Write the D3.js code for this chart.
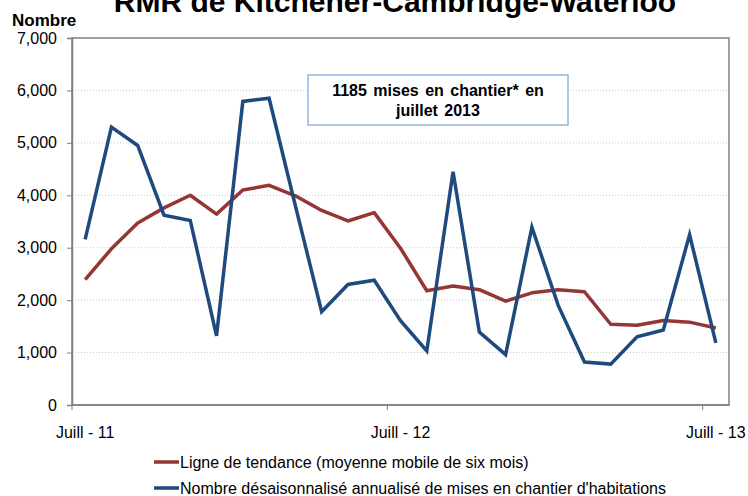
<!DOCTYPE html>
<html lang="fr">
<head>
<meta charset="UTF-8" />
<title>RMR de Kitchener-Cambridge-Waterloo</title>
<script src="https://d3js.org/d3.v7.min.js"></script>
<style>
    body { margin: 0; background: #fff; }
    svg { display: block; font-family: "Liberation Sans", Arial, sans-serif; }
</style>
</head>
<body>
<svg id="chart" width="748" height="496"></svg>
<script>
// months Juill-11 .. Juill-13
const months = d3.range(25);
const tickLabels = ["Juill - 11", "Juill - 12", "Juill - 13"];
const tickIndex = [0, 12, 24];

const trend = [2390, 2980, 3470, 3760, 4000, 3640, 4100, 4190, 3990, 3710, 3510, 3670,
               2990, 2180, 2270, 2200, 1980, 2140, 2200, 2160, 1540, 1520, 1610, 1580, 1470];
const starts = [3160, 5300, 4950, 3620, 3520, 1320, 5790, 5850, 3800, 1780, 2300, 2380,
                1610, 1030, 4450, 1390, 960, 3390, 1900, 820, 780, 1300, 1430, 3250, 1185];

const yTicks = [0, 1000, 2000, 3000, 4000, 5000, 6000, 7000];

const svg = d3.select("#chart");
const plotL = 72, plotR = 729, plotT = 38, plotB = 405;

const x = d3.scaleBand().domain(months).range([plotL, plotR]);
const y = d3.scaleLinear().domain([0, 7000]).range([plotB, plotT]);
const cx = i => x(i) + x.bandwidth() / 2;

// title (partly off the top, as in the source image)
svg.append("text")
    .attr("x", 395).attr("y", 12)
    .attr("text-anchor", "middle")
    .attr("font-size", 30).attr("font-weight", "bold")
    .text("RMR de Kitchener-Cambridge-Waterloo");

svg.append("text")
    .attr("x", 12).attr("y", 26)
    .attr("font-size", 17).attr("font-weight", "bold")
    .text("Nombre");

// gridlines
svg.append("g")
    .selectAll("line")
    .data(yTicks.filter(d => d > 0 && d < 7000))
    .join("line")
    .attr("x1", plotL).attr("x2", plotR)
    .attr("y1", d => y(d)).attr("y2", d => y(d))
    .attr("stroke", "#c8c8c8")
    .attr("stroke-dasharray", "1,2");

// plot frame
svg.append("rect")
    .attr("x", plotL).attr("y", plotT)
    .attr("width", plotR - plotL).attr("height", plotB - plotT)
    .attr("fill", "none")
    .attr("stroke", "#808080")
    .attr("stroke-width", 1.5);

// y axis
const yAxis = svg.append("g")
    .attr("transform", `translate(${plotL},0)`)
    .call(d3.axisLeft(y).tickValues(yTicks).tickSize(5).tickPadding(10)
        .tickFormat(d3.format(",")));
yAxis.select(".domain").attr("stroke", "#808080").attr("stroke-width", 1.5);
yAxis.selectAll(".tick line").attr("stroke", "#808080");
yAxis.selectAll("text").attr("font-size", 16).attr("fill", "#000")
    .attr("font-family", "'Liberation Sans', Arial, sans-serif");

// x axis: ticks on band edges, labels centred in bands
const xg = svg.append("g").attr("transform", `translate(0,${plotB})`);
xg.append("line").attr("x1", plotL).attr("x2", plotR)
    .attr("stroke", "#808080").attr("stroke-width", 1.5);
xg.selectAll("line.tk")
    .data(tickIndex)
    .join("line")
    .attr("class", "tk")
    .attr("x1", d => x(d)).attr("x2", d => x(d))
    .attr("y1", 0).attr("y2", 5)
    .attr("stroke", "#808080");
xg.selectAll("text")
    .data(tickIndex)
    .join("text")
    .attr("x", d => cx(d)).attr("y", 33)
    .attr("text-anchor", "middle")
    .attr("font-size", 16)
    .text((d, i) => tickLabels[i]);

// lines
const line = d3.line().x((d, i) => cx(i)).y(d => y(d));

svg.append("path")
    .datum(trend)
    .attr("fill", "none")
    .attr("stroke", "#943634")
    .attr("stroke-width", 3.5)
    .attr("stroke-linejoin", "round")
    .attr("d", line);

svg.append("path")
    .datum(starts)
    .attr("fill", "none")
    .attr("stroke", "#1f4a7e")
    .attr("stroke-width", 3.5)
    .attr("stroke-linejoin", "miter")
    .attr("d", line);

// annotation box
const note = svg.append("g");
note.append("rect")
    .attr("x", 308).attr("y", 75)
    .attr("width", 260).attr("height", 50)
    .attr("fill", "#fff")
    .attr("stroke", "#7aa3d6")
    .attr("stroke-width", 1.2);
note.selectAll("text")
    .data(["1185 mises en chantier* en", "juillet 2013"])
    .join("text")
    .attr("x", 438).attr("y", (d, i) => 96 + i * 20)
    .attr("text-anchor", "middle")
    .attr("font-size", 16).attr("font-weight", "bold")
    .attr("word-spacing", 2)
    .text(d => d);

// legend
const legendItems = [
    { label: "Ligne de tendance (moyenne mobile de six mois)", color: "#943634" },
    { label: "Nombre désaisonnalisé annualisé de mises en chantier d'habitations", color: "#1f4a7e" }
];
const lg = svg.append("g")
    .selectAll("g")
    .data(legendItems)
    .join("g")
    .attr("transform", (d, i) => `translate(154,${462 + i * 26})`);
lg.append("line")
    .attr("x1", 0).attr("x2", 25)
    .attr("stroke", d => d.color)
    .attr("stroke-width", 3.5);
lg.append("text")
    .attr("x", 26).attr("y", 5.5)
    .attr("font-size", 16)
    .text(d => d.label);
</script>
</body>
</html>
